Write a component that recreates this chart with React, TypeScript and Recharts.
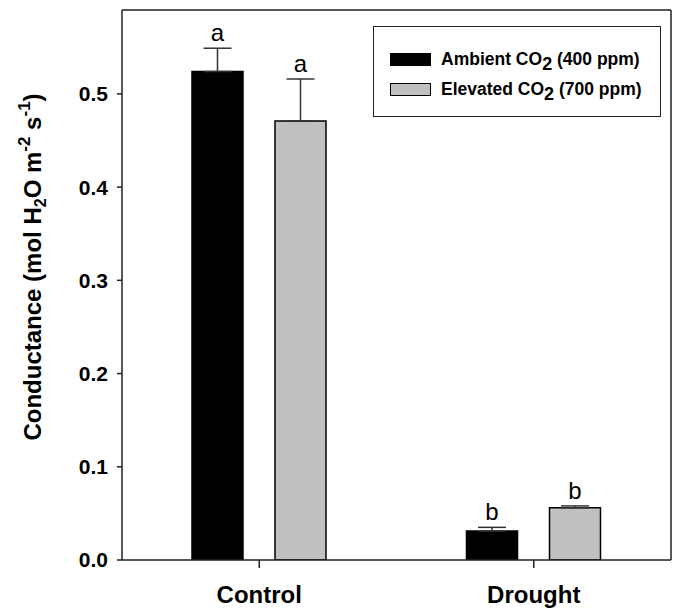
import React from 'react';
import { BarChart, Bar, XAxis, YAxis, ErrorBar, LabelList, Legend } from 'recharts';

const FONT = '"Liberation Sans", Arial, Helvetica, sans-serif';

// treatments on the x axis
const treatments = ['Control', 'Drought'];

// stomatal conductance, mol H2O m-2 s-1
const ambientValues = [0.524, 0.031];
const elevatedValues = [0.471, 0.056];

// upper error (one-sided)
const ambientErrors = [0.025, 0.004];
const elevatedErrors = [0.045, 0.002];

// significance letters
const ambientLetters = ['a', 'b'];
const elevatedLetters = ['a', 'b'];

const yTicks = [0, 0.1, 0.2, 0.3, 0.4, 0.5];

const data = treatments.map((name, i) => ({
  name,
  ambient: ambientValues[i],
  elevated: elevatedValues[i],
  ambientErr: [0, ambientErrors[i]],
  elevatedErr: [0, elevatedErrors[i]],
}));

const makeLetter = (letters: string[], errs: number[], values: number[]) => (props: any) => {
  const { x, y, width, height, index } = props;
  const errPx = (errs[index] / values[index]) * height;
  return (
    <text
      x={x + width / 2}
      y={y - errPx - 7}
      textAnchor="middle"
      fontFamily={FONT}
      fontSize={24}
      fill="#000"
    >
      {letters[index]}
    </text>
  );
};

const YLabel = () => (
  <text
    x={41}
    y={267}
    transform="rotate(-90, 41, 267)"
    textAnchor="middle"
    fontFamily={FONT}
    fontSize={24}
    fontWeight="bold"
    fill="#000"
  >
    <tspan>Conductance (mol H</tspan>
    <tspan fontSize={16} dy={5}>2</tspan>
    <tspan dy={-5}>O m</tspan>
    <tspan fontSize={17} dy={-11}>-2</tspan>
    <tspan dy={11}> s</tspan>
    <tspan fontSize={17} dy={-11}>-1</tspan>
    <tspan dy={11}>)</tspan>
  </text>
);

const legendItems = [
  { label: 'Ambient CO', rest: ' (400 ppm)', fill: '#000000' },
  { label: 'Elevated CO', rest: ' (700 ppm)', fill: '#c0c0c0' },
];

const LegendBox = () => (
  <div
    style={{
      width: 288,
      height: 91,
      boxSizing: 'border-box',
      border: '1.5px solid #222',
      background: '#fff',
      fontFamily: FONT,
      fontWeight: 'bold',
      fontSize: 17.5,
      color: '#000',
      paddingTop: 17,
      paddingLeft: 16,
    }}
  >
    {legendItems.map((item) => (
      <div key={item.label} style={{ display: 'flex', alignItems: 'center', height: 30 }}>
        <span
          style={{
            display: 'inline-block',
            width: 41,
            height: 13,
            boxSizing: 'border-box',
            background: item.fill,
            border: '1.5px solid #000',
            marginRight: 10,
          }}
        />
        <span style={{ whiteSpace: 'nowrap' }}>
          {item.label}
          <span style={{ position: 'relative', top: 5, fontSize: 18 }}>2</span>
          {item.rest}
        </span>
      </div>
    ))}
  </div>
);

export default function App() {
  return (
    <div style={{ position: 'absolute', left: 0, top: 0, background: '#fff' }}>
      <BarChart
        width={674}
        height={608}
        data={data}
        margin={{ top: 9, right: 2, bottom: 0, left: 0 }}
        barSize={51}
        barGap={32}
      >
        <XAxis
          dataKey="name"
          height={48}
          axisLine={{ stroke: '#222', strokeWidth: 1.5 }}
          tickLine={{ stroke: '#222', strokeWidth: 1.5 }}
          tickSize={8}
          tickMargin={18}
          tick={{ fontFamily: FONT, fontSize: 24, fontWeight: 'bold', fill: '#000' }}
        />
        <XAxis
          xAxisId="top"
          dataKey="name"
          orientation="top"
          height={1}
          tick={false}
          tickLine={false}
          axisLine={{ stroke: '#222', strokeWidth: 1.5 }}
        />
        <YAxis
          width={122}
          domain={[0, 0.59]}
          ticks={yTicks}
          allowDataOverflow
          tickFormatter={(v: number) => v.toFixed(1)}
          axisLine={{ stroke: '#222', strokeWidth: 1.5 }}
          tickLine={{ stroke: '#222', strokeWidth: 1.5 }}
          tickSize={5}
          tickMargin={9}
          tick={{ fontFamily: FONT, fontSize: 21, fontWeight: 'bold', fill: '#000' }}
          label={<YLabel />}
        />
        <YAxis
          yAxisId="right"
          orientation="right"
          width={1}
          domain={[0, 0.59]}
          tick={false}
          tickLine={false}
          axisLine={{ stroke: '#222', strokeWidth: 1.5 }}
        />
        <Legend
          layout="horizontal"
          verticalAlign="middle"
          align="center"
          content={<LegendBox />}
          wrapperStyle={{ position: 'absolute', left: 373, top: 26, width: 288, height: 91 }}
        />
        <Bar dataKey="ambient" fill="#000000" stroke="#000" strokeWidth={1.5} isAnimationActive={false}>
          <ErrorBar dataKey="ambientErr" width={14} stroke="#333" strokeWidth={1.5} direction="y" />
          <LabelList content={makeLetter(ambientLetters, ambientErrors, ambientValues)} />
        </Bar>
        <Bar dataKey="elevated" fill="#c0c0c0" stroke="#000" strokeWidth={1.5} isAnimationActive={false}>
          <ErrorBar dataKey="elevatedErr" width={14} stroke="#333" strokeWidth={1.5} direction="y" />
          <LabelList content={makeLetter(elevatedLetters, elevatedErrors, elevatedValues)} />
        </Bar>
      </BarChart>
    </div>
  );
}
